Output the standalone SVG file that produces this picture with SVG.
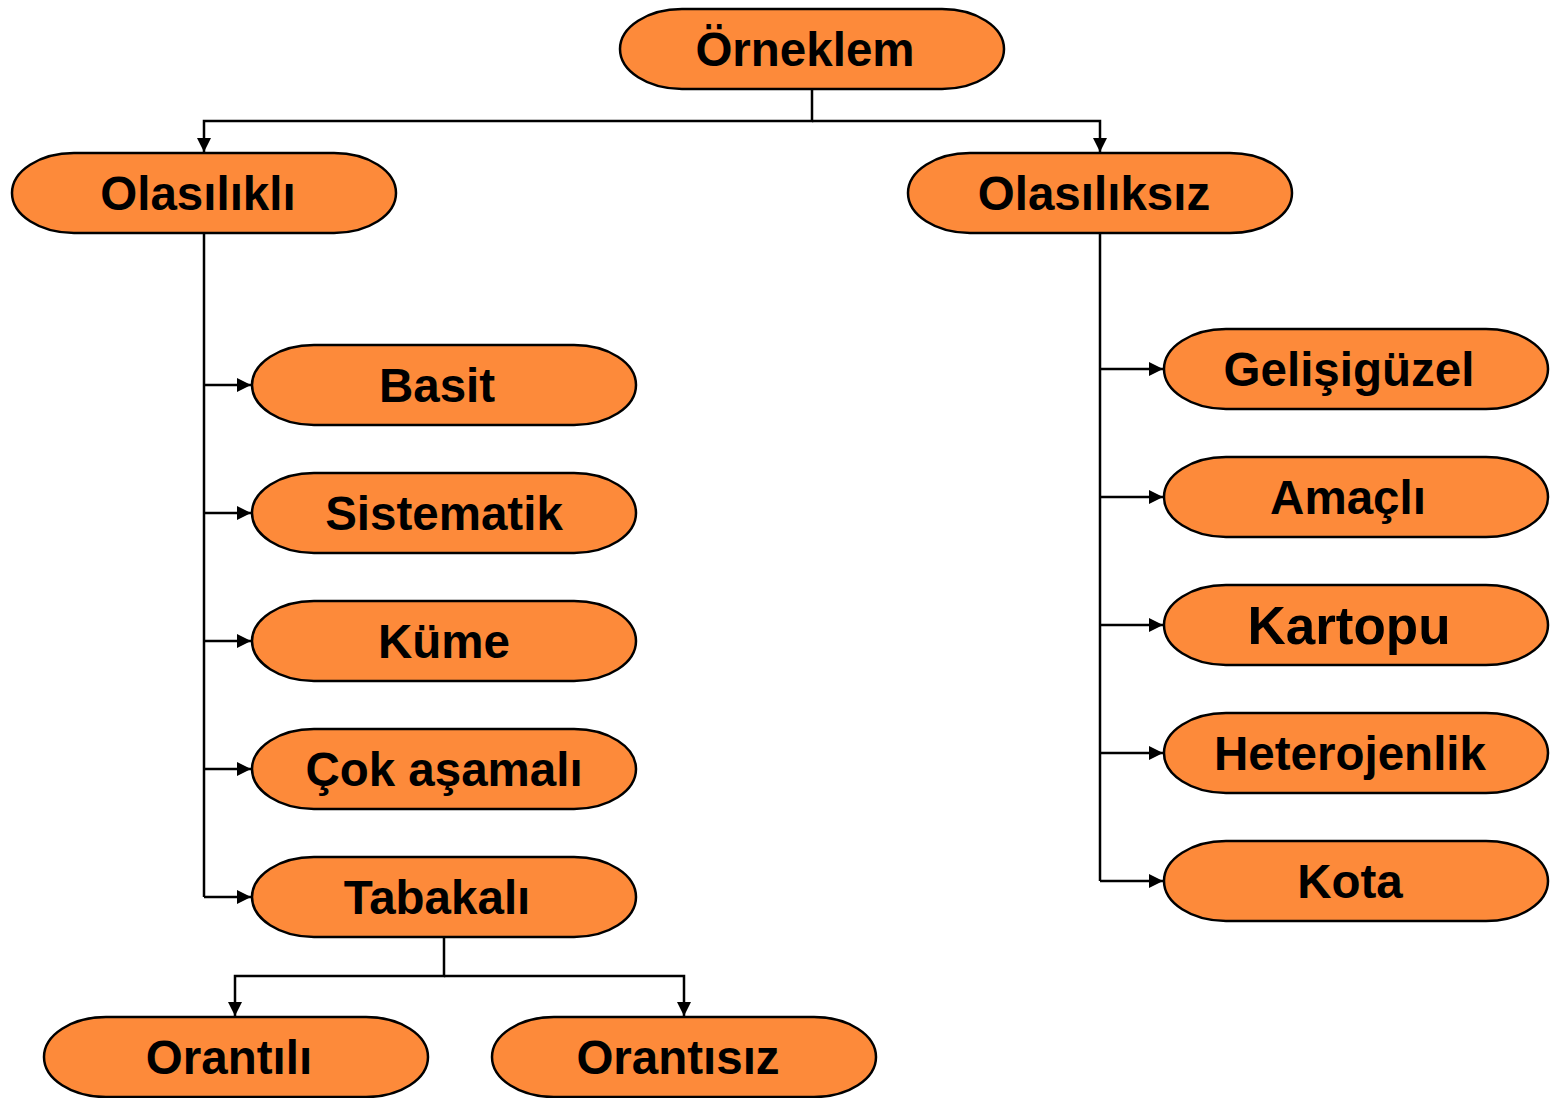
<svg xmlns="http://www.w3.org/2000/svg" width="1552" height="1098" viewBox="0 0 1552 1098">
<style>
.n{fill:#FD8A3A;stroke:#000;stroke-width:2.5}
.t{font-family:"Liberation Sans",Arial,sans-serif;font-weight:bold;font-size:47.5px;fill:#000;text-anchor:middle}
.c{fill:none;stroke:#000;stroke-width:2.5}
</style>
<defs>
<marker id="a" viewBox="0 0 10 10" refX="10" refY="5" markerWidth="14" markerHeight="14" markerUnits="userSpaceOnUse" orient="auto">
<path d="M0,0 L10,5 L0,10 Z" fill="#000"/>
</marker>
</defs>
<rect width="1552" height="1098" fill="#fff"/>
<g id="connectors">
<path class="c" d="M812,89 V121 H204 V152" marker-end="url(#a)"/>
<path class="c" d="M812,121 H1100 V152" marker-end="url(#a)"/>
<path class="c" d="M204,233 V897"/>
<path class="c" d="M204,385 H251" marker-end="url(#a)"/>
<path class="c" d="M204,513 H251" marker-end="url(#a)"/>
<path class="c" d="M204,641 H251" marker-end="url(#a)"/>
<path class="c" d="M204,769 H251" marker-end="url(#a)"/>
<path class="c" d="M204,897 H251" marker-end="url(#a)"/>
<path class="c" d="M1100,233 V881"/>
<path class="c" d="M1100,369 H1163" marker-end="url(#a)"/>
<path class="c" d="M1100,497 H1163" marker-end="url(#a)"/>
<path class="c" d="M1100,625 H1163" marker-end="url(#a)"/>
<path class="c" d="M1100,753 H1163" marker-end="url(#a)"/>
<path class="c" d="M1100,881 H1163" marker-end="url(#a)"/>
<path class="c" d="M444,937 V976 H235 V1016" marker-end="url(#a)"/>
<path class="c" d="M444,976 H684 V1016" marker-end="url(#a)"/>
</g>
<g id="orneklem"><rect class="n" x="620" y="9" width="384" height="80" rx="62" ry="40"/><text class="t" x="805" y="66">Örneklem</text></g>
<g id="olasilikli"><rect class="n" x="12" y="153" width="384" height="80" rx="62" ry="40"/><text class="t" x="198" y="210">Olasılıklı</text></g>
<g id="olasiliksiz"><rect class="n" x="908" y="153" width="384" height="80" rx="62" ry="40"/><text class="t" x="1094" y="210">Olasılıksız</text></g>
<g id="basit"><rect class="n" x="252" y="345" width="384" height="80" rx="62" ry="40"/><text class="t" x="437" y="402">Basit</text></g>
<g id="sistematik"><rect class="n" x="252" y="473" width="384" height="80" rx="62" ry="40"/><text class="t" x="444" y="530">Sistematik</text></g>
<g id="kume"><rect class="n" x="252" y="601" width="384" height="80" rx="62" ry="40"/><text class="t" x="444" y="658">Küme</text></g>
<g id="cok-asamali"><rect class="n" x="252" y="729" width="384" height="80" rx="62" ry="40"/><text class="t" x="444" y="786">Çok aşamalı</text></g>
<g id="tabakali"><rect class="n" x="252" y="857" width="384" height="80" rx="62" ry="40"/><text class="t" x="437" y="914">Tabakalı</text></g>
<g id="orantili"><rect class="n" x="44" y="1017" width="384" height="80" rx="62" ry="40"/><text class="t" x="229" y="1074">Orantılı</text></g>
<g id="orantisiz"><rect class="n" x="492" y="1017" width="384" height="80" rx="62" ry="40"/><text class="t" x="678" y="1074">Orantısız</text></g>
<g id="gelisiguzel"><rect class="n" x="1164" y="329" width="384" height="80" rx="62" ry="40"/><text class="t" x="1349" y="386">Gelişigüzel</text></g>
<g id="amacli"><rect class="n" x="1164" y="457" width="384" height="80" rx="62" ry="40"/><text class="t" x="1348" y="514">Amaçlı</text></g>
<g id="kartopu"><rect class="n" x="1164" y="585" width="384" height="80" rx="62" ry="40"/><text class="t" x="1349" y="644" style="font-size:53px">Kartopu</text></g>
<g id="heterojenlik"><rect class="n" x="1164" y="713" width="384" height="80" rx="62" ry="40"/><text class="t" x="1350" y="770">Heterojenlik</text></g>
<g id="kota"><rect class="n" x="1164" y="841" width="384" height="80" rx="62" ry="40"/><text class="t" x="1350" y="898">Kota</text></g>
</svg>
